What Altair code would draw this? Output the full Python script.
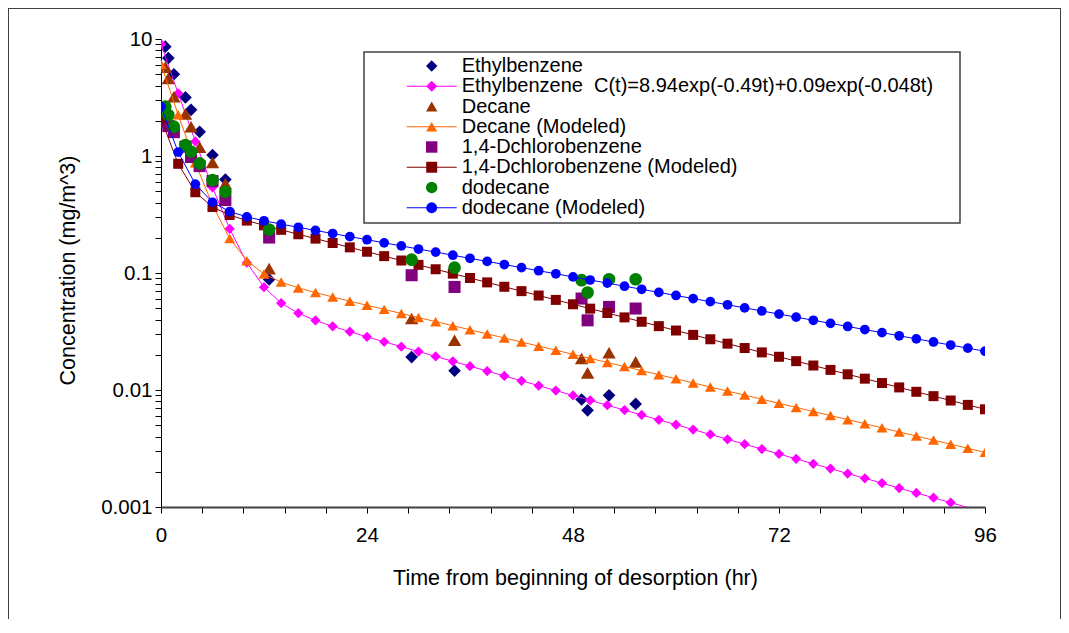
import altair as alt
import pandas as pd

# ---------------- data ----------------
t_meas = [0.5, 0.85, 1.5, 2.85, 3.5, 4.5, 6, 7.5, 12.6, 29.2, 34.2, 49, 49.7, 52.2, 55.3]
eb_meas = [8.6, 6.87, 5.0, 3.17, 2.48, 1.61, 1.02, 0.63, 0.088, 0.0191, 0.0146, 0.0083, 0.0067, 0.0090, 0.0076]
dec_meas = [5.75, 4.61, 3.21, 2.29, 1.78, 1.19, 0.88, 0.58, 0.109, 0.0408, 0.0266, 0.0186, 0.0140, 0.0208, 0.0174]
dcb_meas = [1.95, 1.8, 1.6, 1.2, 0.98, 0.82, 0.61, 0.42, 0.201, 0.0957, 0.076, 0.0605, 0.0394, 0.0513, 0.0497]
dod_meas = [2.64, 2.24, 1.78, 1.24, 1.09, 0.865, 0.622, 0.494, 0.235, 0.130, 0.111, 0.0868, 0.068, 0.0885, 0.0885]

t_model = [0, 2, 4, 6, 8, 10, 12, 14, 16, 18, 20, 22, 24, 26, 28, 30, 32, 34, 36, 38, 40, 42, 44, 46, 48,
           50, 52, 54, 56, 58, 60, 62, 64, 66, 68, 70, 72, 74, 76, 78, 80, 82, 84, 86, 88, 90, 92, 94, 96]
eb_model = [9.03, 3.437, 1.333, 0.540, 0.2387, 0.1224, 0.0756, 0.0553, 0.0453, 0.0393, 0.0350, 0.0315, 0.0285,
            0.02584, 0.02347, 0.02132, 0.01937, 0.01760, 0.01599, 0.01452, 0.01319, 0.01199, 0.01089, 0.00989,
            0.00899, 0.00816, 0.00742, 0.00674, 0.00612, 0.00556, 0.00505, 0.00459, 0.00417, 0.00379, 0.00344,
            0.00313, 0.00284, 0.00258, 0.00234, 0.00213, 0.00193, 0.00176, 0.00160, 0.00145, 0.00132, 0.00120,
            0.00109, 0.00099, 0.00090]
dec_model = [6.089, 2.252, 0.876, 0.380, 0.1975, 0.1275, 0.0981, 0.0836, 0.0746, 0.0680, 0.0624, 0.05740,
             0.05297, 0.04888, 0.04510, 0.04162, 0.03840, 0.03544, 0.03270, 0.03017, 0.02784, 0.02569, 0.02371,
             0.02188, 0.02019, 0.01863, 0.01719, 0.01586, 0.01464, 0.01351, 0.01246, 0.01150, 0.01061, 0.00979,
             0.00904, 0.00834, 0.00769, 0.00710, 0.00655, 0.00605, 0.00558, 0.00515, 0.00475, 0.00438, 0.00404,
             0.00373, 0.00344, 0.00318, 0.00293]
dcb_model = [2.087, 0.8579, 0.4903, 0.3665, 0.3129, 0.2805, 0.2555, 0.2339, 0.21438, 0.19669, 0.18046, 0.16557,
             0.15191, 0.13937, 0.12787, 0.11732, 0.10764, 0.09876, 0.09061, 0.08313, 0.07627, 0.06998, 0.06420,
             0.05890, 0.05404, 0.04958, 0.04549, 0.04174, 0.03830, 0.03514, 0.03224, 0.02958, 0.02714, 0.02490,
             0.02284, 0.02096, 0.01923, 0.01764, 0.01619, 0.01485, 0.01362, 0.01250, 0.01147, 0.01052, 0.00965,
             0.00886, 0.00813, 0.00746, 0.00684]
dod_model = [2.64, 1.0786, 0.5743, 0.4022, 0.3351, 0.3017, 0.2796, 0.2617, 0.2458, 0.23110, 0.21743, 0.20457,
             0.19247, 0.18109, 0.17038, 0.16030, 0.15082, 0.14190, 0.13351, 0.12561, 0.11818, 0.11119, 0.10462,
             0.09843, 0.09261, 0.08713, 0.08198, 0.07713, 0.07257, 0.06828, 0.06424, 0.06044, 0.05687, 0.05350,
             0.05034, 0.04736, 0.04456, 0.04193, 0.03945, 0.03711, 0.03492, 0.03285, 0.03091, 0.02908, 0.02736,
             0.02574, 0.02422, 0.02279, 0.02144]

legend_labels = ["Ethylbenzene",
                 "Ethylbenzene\u00a0 C(t)=8.94exp(-0.49t)+0.09exp(-0.048t)",
                 "Decane",
                 "Decane (Modeled)",
                 "1,4-Dchlorobenzene",
                 "1,4-Dchlorobenzene (Modeled)",
                 "dodecane",
                 "dodecane (Modeled)"]
legend_colors = ["#000080", "#FF00FF", "#993300", "#FF6600", "#800080", "#800000", "#008000", "#0000FF"]
legend_shapes = ["diamond", "diamond", "triangle-up", "triangle-up", "square", "square", "circle", "circle"]
legend_has_line = [False, True, False, True, False, True, False, True]

x_ticks = [0, 4.8, 9.6, 14.4, 19.2, 24, 28.8, 33.6, 38.4, 43.2, 48, 52.8, 57.6, 62.4, 67.2, 72,
           76.8, 81.6, 86.4, 91.2, 96]
y_ticks = [0.001, 0.002, 0.003, 0.004, 0.005, 0.006, 0.007, 0.008, 0.009,
           0.01, 0.02, 0.03, 0.04, 0.05, 0.06, 0.07, 0.08, 0.09,
           0.1, 0.2, 0.3, 0.4, 0.5, 0.6, 0.7, 0.8, 0.9,
           1, 2, 3, 4, 5, 6, 7, 8, 9, 10]

# ---------------- styling / layout ----------------
FONT = "Liberation Sans"
W, H = 824, 468

xscale = alt.Scale(domain=[0, 96], nice=False, zero=False)
yscale = alt.Scale(type="log", domain=[0.001, 10], nice=False)

xaxis = alt.Axis(values=x_ticks, labelExpr="datum.value % 24 == 0 ? datum.label : ''",
                 format="d", labelFont=FONT, labelFontSize=20.5, labelColor="black",
                 labelPadding=12, labelFlush=False, labelOverlap=False,
                 tickSize=6, tickColor="black", tickWidth=1,
                 domainColor="#404040", domainWidth=2, grid=False,
                 title="Time from beginning of desorption (hr)", titleFont=FONT,
                 titleFontSize=21.5, titleFontWeight="normal", titleColor="black",
                 titleX=414, titleY=71, titleBaseline="middle", titleAlign="center")
yaxis = alt.Axis(values=y_ticks, format="~g",
                 labelExpr="indexof([0.001, 0.01, 0.1, 1, 10], datum.value) >= 0 ? datum.label : ''",
                 labelFont=FONT, labelFontSize=20.5, labelColor="black", labelPadding=3,
                 labelOverlap=False, labelFlush=False,
                 tickSize=6, tickColor="black", tickWidth=1,
                 domainColor="black", domainWidth=1, grid=False,
                 title="Concentration (mg/m^3)", titleFont=FONT, titleFontSize=21.5,
                 titleFontWeight="normal", titleColor="black",
                 titleX=-93, titleY=231, titleAngle=270, titleBaseline="middle", titleAlign="center")


def enc():
    return dict(x=alt.X("t:Q", scale=xscale, axis=xaxis),
                y=alt.Y("c:Q", scale=yscale, axis=yaxis))


def meas_layer(vals, shape, color, size):
    df = pd.DataFrame({"t": t_meas, "c": vals})
    return alt.Chart(df).mark_point(shape=shape, filled=True, color=color, size=size,
                                    opacity=1, strokeWidth=0, clip=True).encode(**enc())


def model_layers(vals, shape, color, size, line_color):
    df = pd.DataFrame({"t": t_model, "c": vals})
    line = alt.Chart(df).mark_line(color=line_color, strokeWidth=1, clip=True).encode(**enc())
    pts = alt.Chart(df).transform_filter("datum.c >= 0.001").mark_point(
        shape=shape, filled=True, color=color, size=size, opacity=1, strokeWidth=0, clip=True
    ).encode(**enc())
    return [line, pts]


layers = []
layers.append(meas_layer(eb_meas, "diamond", "#000080", 160))
layers += model_layers(eb_model, "diamond", "#FF00FF", 105, "#FF00FF")
layers.append(meas_layer(dec_meas, "triangle-up", "#993300", 180))
layers += model_layers(dec_model, "triangle-up", "#FF6600", 120, "#FF6600")
layers.append(meas_layer(dcb_meas, "square", "#800080", 145))
layers += model_layers(dcb_model, "square", "#800000", 100, "#800000")
layers.append(meas_layer(dod_meas, "circle", "#008000", 160))
layers += model_layers(dod_model, "circle", "#0000FF", 95, "#0000FF")

# ---------------- legend (placed in pixel space) ----------------
one = alt.Data(values=[{}])
legend_box = alt.Chart(one).mark_rect(fill="white", stroke="#404040", strokeWidth=1.5).encode(
    x=alt.value(203), x2=alt.value(799), y=alt.value(13), y2=alt.value(184))

row_y = [27 + 20.25 * i for i in range(len(legend_labels))]
leg_df = pd.DataFrame({
    "label": legend_labels, "col": legend_colors, "shp": legend_shapes,
    "line": legend_has_line, "py": row_y,
    "sx": [270.7] * 8, "lx1": [245.7] * 8, "lx2": [295.7] * 8, "tx": [300.7] * 8,
    "sz": [120 if l else 130 for l in legend_has_line],
})
leg_lines = alt.Chart(leg_df).transform_filter("datum.line").mark_rule(strokeWidth=1).encode(
    x=alt.X("lx1:Q", scale=None), x2="lx2:Q", y=alt.Y("py:Q", scale=None),
    color=alt.Color("col:N", scale=None))
leg_syms = alt.Chart(leg_df).mark_point(filled=True, opacity=1, strokeWidth=0).encode(
    x=alt.X("sx:Q", scale=None), y=alt.Y("py:Q", scale=None),
    color=alt.Color("col:N", scale=None), shape=alt.Shape("shp:N", scale=None),
    size=alt.Size("sz:Q", scale=None))
leg_text = alt.Chart(leg_df).mark_text(align="left", baseline="middle", font=FONT,
                                       fontSize=20, color="black").encode(
    x=alt.X("tx:Q", scale=None), y=alt.Y("py:Q", scale=None), text="label:N")

border = alt.Chart(one).mark_rect(fill="white", fillOpacity=0, stroke="#404040", strokeWidth=2).encode(
    x=alt.value(-153), x2=alt.value(900), y=alt.value(-31), y2=alt.value(620))

chart = alt.layer(*layers, legend_box, leg_lines, leg_syms, leg_text, border).properties(
    width=W, height=H,
    autosize=alt.AutoSizeParams(type="none"),
    padding={"left": 153, "top": 31, "right": 76, "bottom": 112},
    background="white",
).configure_view(stroke=None)

chart.save("out.html", embed_options={"renderer": "svg", "actions": False})
